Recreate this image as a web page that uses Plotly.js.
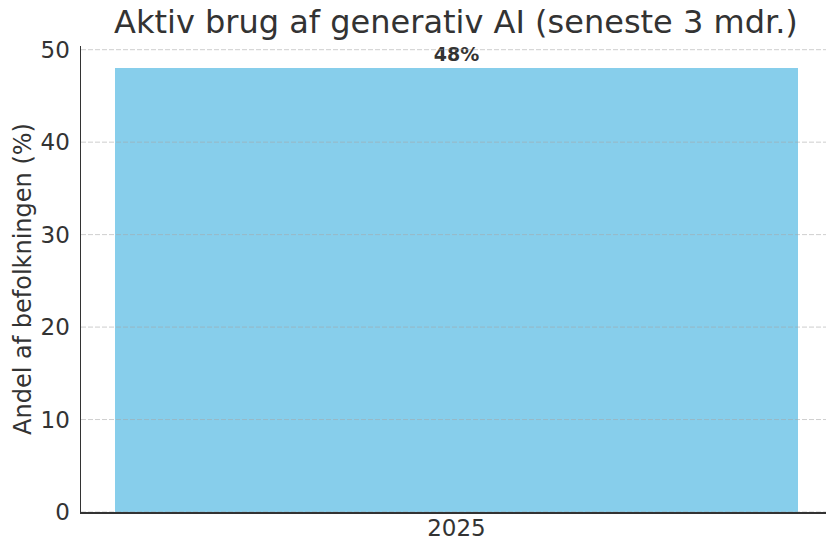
<!DOCTYPE html>
<html>
<head>
<meta charset="utf-8">
<script src="https://cdn.plot.ly/plotly-3.0.1.min.js"></script>
<style>html,body{margin:0;padding:0;background:#fff;}#chart{width:826px;height:542px;}</style>
</head>
<body>
<div id="chart"></div>
<script>
const categories = ['2025'];
const values = [48];
const valueLabels = ['48%'];
const yTicks = [0, 10, 20, 30, 40, 50];
const xGrid = categories;

const font = 'DejaVu Sans, sans-serif';
const gridColor = 'rgba(165,165,165,0.55)';

const shapes = [];
yTicks.forEach(t => shapes.push({type:'line', xref:'paper', yref:'y', x0:0, x1:1, y0:t, y1:t, layer:'above', line:{color:gridColor, width:1, dash:'5px,2px'}}));
xGrid.forEach(c => shapes.push({type:'line', xref:'x', yref:'paper', x0:c, x1:c, y0:0, y1:1, layer:'above', line:{color:gridColor, width:1, dash:'5px,2px'}}));

const data = [{
  type:'bar', x: categories, y: values, width: 0.8,
  marker:{color:'#87CEEB', line:{width:0}},
  text: valueLabels, textposition:'outside', cliponaxis:false,
  textfont:{family:font, size:19, color:'#333333', weight:'bold'},
  hoverinfo:'none'
}];

const layout = {
  width:826, height:542,
  margin:{l:81, r:0, t:46, b:30},
  paper_bgcolor:'#fff', plot_bgcolor:'#fff',
  showlegend:false,
  font:{family:font, color:'#333333'},
  title:{text:'Aktiv brug af generativ AI (seneste 3 mdr.)', font:{family:font, size:32, color:'#333333'}, x:0.552, xanchor:'center', y:0.96, yanchor:'middle'},
  xaxis:{type:'category', range:[-0.44, 0.433], showgrid:false, zeroline:false,
    showline:true, linecolor:'#333333', linewidth:1.5,
    ticks:'', ticklabelstandoff:-5,
    tickfont:{family:font, size:23, color:'#333333'}},
  yaxis:{range:[0, 50.4], tickvals:yTicks, showgrid:false, zeroline:false,
    showline:true, linecolor:'#333333', linewidth:1.5,
    ticks:'', ticklabelstandoff:5,
    tickfont:{family:font, size:23, color:'#333333'},
    title:{text:'Andel af befolkningen (%)', font:{family:font, size:24, color:'#333333'}, standoff:2}},
  shapes: shapes,
  bargap:0
};
Plotly.newPlot('chart', data, layout, {staticPlot:true});
</script>
</body>
</html>
